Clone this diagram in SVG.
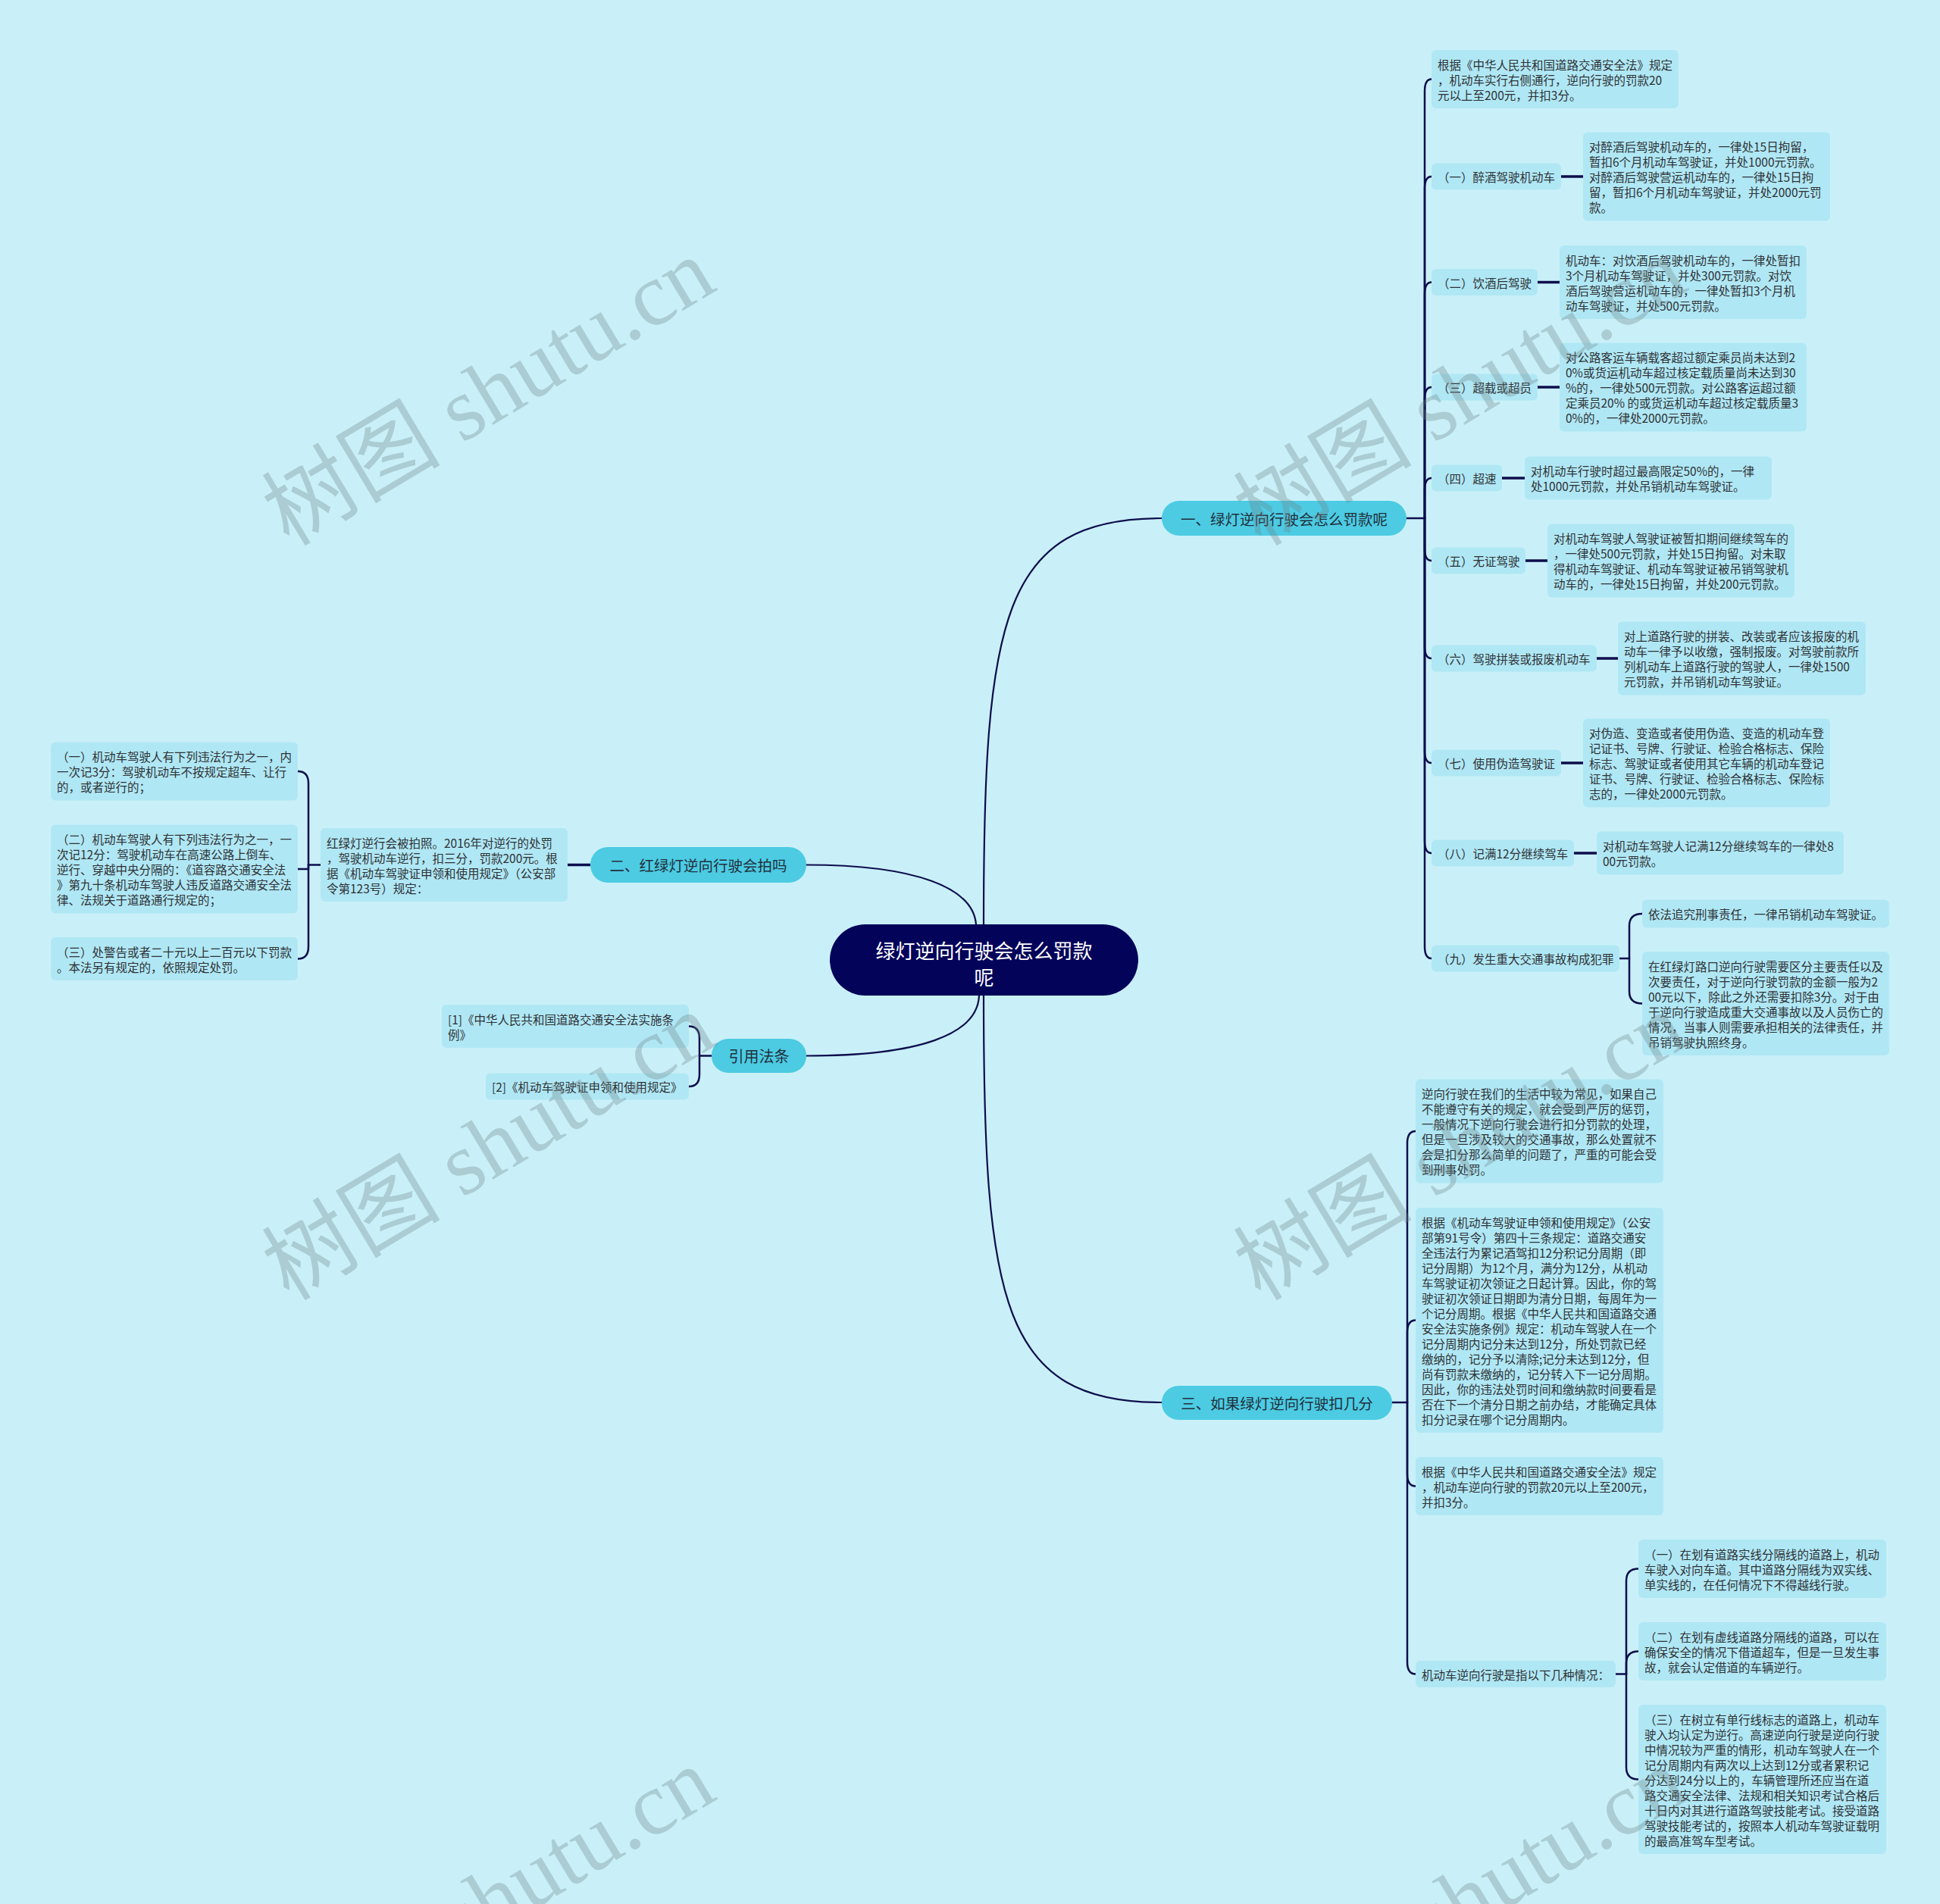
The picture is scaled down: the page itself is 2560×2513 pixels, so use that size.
<svg xmlns="http://www.w3.org/2000/svg" width="2560" height="2513" viewBox="0 0 2560 2513">
<defs>
<style>
.ln{fill:none;stroke:#0d0d4d;stroke-width:2.5;stroke-linecap:round;stroke-linejoin:round}
.lm{fill:none;stroke:#0d0d4d;stroke-width:2.2;stroke-linecap:round}
.lt{fill:none;stroke:#0d0d4d;stroke-width:3.5}
.leaf{fill:#b0e7f4}
.br{fill:#4ccbe3}
.rootbox{fill:#03035a}
.t{font-family:"Noto Sans CJK SC","Microsoft YaHei",sans-serif;font-size:15.5px;fill:#2e3236;dominant-baseline:central}
.bt{font-family:"Noto Sans CJK SC","Microsoft YaHei",sans-serif;font-size:19.5px;fill:#22303c;text-anchor:middle;dominant-baseline:central}
.rt{font-family:"Noto Sans CJK SC","Microsoft YaHei",sans-serif;font-size:26px;fill:#ffffff;text-anchor:middle;dominant-baseline:central}
.wm{font-family:"Liberation Serif","Noto Sans CJK SC",serif;font-size:118px;fill:#6e8388;opacity:0.32;text-anchor:middle;dominant-baseline:central}
</style>
</defs>
<rect x="0" y="0" width="2560" height="2513" fill="#c9f0f8"/>

<g id="connectors">
<path class="lm" d="M1298,1220 C1298,816 1322,684 1533,684"/>
<path class="lm" d="M1298,1314 C1298,1720 1322,1851 1533,1851"/>
<path class="lm" d="M1288,1220 C1284,1172 1210,1141.5 1064,1141.5"/>
<path class="lm" d="M1292,1314 C1290,1365 1215,1393.5 1064,1393.5"/>

<path class="ln" d="M1856,684 H1880"/>
<path class="ln" d="M1880,684 V120.5 Q1880,104.5 1889,104.5"/>
<path class="ln" d="M1880,684 V249 Q1880,233 1889,233"/>
<path class="ln" d="M1880,684 V388.5 Q1880,372.5 1889,372.5"/>
<path class="ln" d="M1880,684 V527 Q1880,511 1889,511"/>
<path class="ln" d="M1880,684 V647 Q1880,631 1889,631"/>
<path class="ln" d="M1880,684 V724 Q1880,740 1889,740"/>
<path class="ln" d="M1880,684 V853 Q1880,869 1889,869"/>
<path class="ln" d="M1880,684 V991 Q1880,1007 1889,1007"/>
<path class="ln" d="M1880,684 V1110 Q1880,1126 1889,1126"/>
<path class="ln" d="M1880,684 V1249 Q1880,1265 1889,1265"/>

<path class="lt" d="M2059,233 H2089"/>
<path class="lt" d="M2028,372.5 H2058"/>
<path class="lt" d="M2028,511 H2058"/>
<path class="lt" d="M1982,631 H2012"/>
<path class="lt" d="M2012,740 H2042"/>
<path class="lt" d="M2106,869 H2135"/>
<path class="lt" d="M2059,1007 H2089"/>
<path class="lt" d="M2077,1126 H2107"/>

<path class="ln" d="M2137,1265 H2150"/>
<path class="ln" d="M2150,1265 V1222 Q2150,1206 2167,1206"/>
<path class="ln" d="M2150,1265 V1308.5 Q2150,1324.5 2167,1324.5"/>

<path class="ln" d="M1837,1851 H1857"/>
<path class="ln" d="M1857,1851 V1509 Q1857,1493 1868,1493"/>
<path class="ln" d="M1857,1851 V1758.5 Q1857,1742.5 1868,1742.5"/>
<path class="ln" d="M1857,1851 V1945.5 Q1857,1961.5 1868,1961.5"/>
<path class="ln" d="M1857,1851 V2193.5 Q1857,2209.5 1868,2209.5"/>

<path class="ln" d="M2132,2209.5 H2146"/>
<path class="ln" d="M2146,2209.5 V2086.5 Q2146,2070.5 2162,2070.5"/>
<path class="ln" d="M2146,2209.5 V2195.5 Q2146,2179.5 2162,2179.5"/>
<path class="ln" d="M2146,2209.5 V2332.5 Q2146,2348.5 2162,2348.5"/>

<path class="lt" d="M779,1141.5 H749"/>
<path class="ln" d="M423,1141.5 H407"/>
<path class="ln" d="M407,1141.5 V1034 Q407,1018 393,1018"/>
<path class="ln" d="M407,1141.5 V1147 H393"/>
<path class="ln" d="M407,1141.5 V1249.5 Q407,1265.5 393,1265.5"/>

<path class="ln" d="M939,1393.5 H923"/>
<path class="ln" d="M923,1393.5 V1370.5 Q923,1354.5 909,1354.5"/>
<path class="ln" d="M923,1393.5 V1418 Q923,1434 909,1434"/>
</g>

<g id="root">
<rect class="rootbox" x="1095" y="1220" width="407" height="94" rx="47"/>
<text class="rt"><tspan x="1298.5" y="1253">绿灯逆向行驶会怎么罚款</tspan><tspan x="1298.5" y="1288">呢</tspan></text>
</g>

<g id="branch1">
<rect class="br" x="1533" y="661" width="323" height="46" rx="23"/>
<text class="bt" x="1694.5" y="684">一、绿灯逆向行驶会怎么罚款呢</text>
</g>
<g id="branch2">
<rect class="br" x="779" y="1118" width="285" height="47" rx="23"/>
<text class="bt" x="921.5" y="1141.5">二、红绿灯逆向行驶会拍吗</text>
</g>
<g id="branch3">
<rect class="br" x="1533" y="1829" width="304" height="45" rx="22"/>
<text class="bt" x="1685" y="1851">三、如果绿灯逆向行驶扣几分</text>
</g>
<g id="branch4">
<rect class="br" x="939" y="1371" width="125" height="45" rx="22"/>
<text class="bt" x="1001.5" y="1393.5" style="font-size:20px">引用法条</text>
</g>

<g id="b1-law">
<rect class="leaf" x="1889" y="66" width="326" height="77" rx="6"/>
<text class="t"><tspan x="1897" y="84.5">根据《中华人民共和国道路交通安全法》规定</tspan><tspan x="1897" y="104.5">，机动车实行右侧通行，逆向行驶的罚款20</tspan><tspan x="1897" y="124.5">元以上至200元，并扣3分。</tspan></text>
</g>

<g id="b1-1">
<rect class="leaf" x="1889" y="215.5" width="171" height="35" rx="6"/>
<text class="t" x="1897" y="233">（一）醉酒驾驶机动车</text>
</g>
<g id="b1-1d">
<rect class="leaf" x="2089" y="174.5" width="326" height="117" rx="6"/>
<text class="t"><tspan x="2097" y="193">对醉酒后驾驶机动车的，一律处15日拘留，</tspan><tspan x="2097" y="213">暂扣6个月机动车驾驶证，并处1000元罚款。</tspan><tspan x="2097" y="233">对醉酒后驾驶营运机动车的，一律处15日拘</tspan><tspan x="2097" y="253">留，暂扣6个月机动车驾驶证，并处2000元罚</tspan><tspan x="2097" y="273">款。</tspan></text>
</g>

<g id="b1-2">
<rect class="leaf" x="1889" y="355" width="140" height="35" rx="6"/>
<text class="t" x="1897" y="372.5">（二）饮酒后驾驶</text>
</g>
<g id="b1-2d">
<rect class="leaf" x="2058" y="324" width="326" height="97" rx="6"/>
<text class="t"><tspan x="2066" y="342.5">机动车：对饮酒后驾驶机动车的，一律处暂扣</tspan><tspan x="2066" y="362.5">3个月机动车驾驶证，并处300元罚款。对饮</tspan><tspan x="2066" y="382.5">酒后驾驶营运机动车的，一律处暂扣3个月机</tspan><tspan x="2066" y="402.5">动车驾驶证，并处500元罚款。</tspan></text>
</g>

<g id="b1-3">
<rect class="leaf" x="1889" y="493.5" width="140" height="35" rx="6"/>
<text class="t" x="1897" y="511">（三）超载或超员</text>
</g>
<g id="b1-3d">
<rect class="leaf" x="2058" y="452.5" width="326" height="117" rx="6"/>
<text class="t"><tspan x="2066" y="471">对公路客运车辆载客超过额定乘员尚未达到2</tspan><tspan x="2066" y="491">0%或货运机动车超过核定载质量尚未达到30</tspan><tspan x="2066" y="511">%的，一律处500元罚款。对公路客运超过额</tspan><tspan x="2066" y="531">定乘员20% 的或货运机动车超过核定载质量3</tspan><tspan x="2066" y="551">0%的，一律处2000元罚款。</tspan></text>
</g>

<g id="b1-4">
<rect class="leaf" x="1889" y="613.5" width="93" height="35" rx="6"/>
<text class="t" x="1897" y="631">（四）超速</text>
</g>
<g id="b1-4d">
<rect class="leaf" x="2012" y="602.5" width="326" height="57" rx="6"/>
<text class="t"><tspan x="2020" y="621">对机动车行驶时超过最高限定50%的，一律</tspan><tspan x="2020" y="641">处1000元罚款，并处吊销机动车驾驶证。</tspan></text>
</g>

<g id="b1-5">
<rect class="leaf" x="1889" y="722.5" width="124" height="35" rx="6"/>
<text class="t" x="1897" y="740">（五）无证驾驶</text>
</g>
<g id="b1-5d">
<rect class="leaf" x="2042" y="691.5" width="326" height="97" rx="6"/>
<text class="t"><tspan x="2050" y="710">对机动车驾驶人驾驶证被暂扣期间继续驾车的</tspan><tspan x="2050" y="730">，一律处500元罚款，并处15日拘留。对未取</tspan><tspan x="2050" y="750">得机动车驾驶证、机动车驾驶证被吊销驾驶机</tspan><tspan x="2050" y="770">动车的，一律处15日拘留，并处200元罚款。</tspan></text>
</g>

<g id="b1-6">
<rect class="leaf" x="1889" y="851.5" width="218" height="35" rx="6"/>
<text class="t" x="1897" y="869">（六）驾驶拼装或报废机动车</text>
</g>
<g id="b1-6d">
<rect class="leaf" x="2135" y="820.5" width="327" height="97" rx="6"/>
<text class="t"><tspan x="2143" y="839">对上道路行驶的拼装、改装或者应该报废的机</tspan><tspan x="2143" y="859">动车一律予以收缴，强制报废。对驾驶前款所</tspan><tspan x="2143" y="879">列机动车上道路行驶的驾驶人，一律处1500</tspan><tspan x="2143" y="899">元罚款，并吊销机动车驾驶证。</tspan></text>
</g>

<g id="b1-7">
<rect class="leaf" x="1889" y="989.5" width="171" height="35" rx="6"/>
<text class="t" x="1897" y="1007">（七）使用伪造驾驶证</text>
</g>
<g id="b1-7d">
<rect class="leaf" x="2089" y="948.5" width="326" height="117" rx="6"/>
<text class="t"><tspan x="2097" y="967">对伪造、变造或者使用伪造、变造的机动车登</tspan><tspan x="2097" y="987">记证书、号牌、行驶证、检验合格标志、保险</tspan><tspan x="2097" y="1007">标志、驾驶证或者使用其它车辆的机动车登记</tspan><tspan x="2097" y="1027">证书、号牌、行驶证、检验合格标志、保险标</tspan><tspan x="2097" y="1047">志的，一律处2000元罚款。</tspan></text>
</g>

<g id="b1-8">
<rect class="leaf" x="1889" y="1108.5" width="188" height="35" rx="6"/>
<text class="t" x="1897" y="1126">（八）记满12分继续驾车</text>
</g>
<g id="b1-8d">
<rect class="leaf" x="2107" y="1097.5" width="326" height="57" rx="6"/>
<text class="t"><tspan x="2115" y="1116">对机动车驾驶人记满12分继续驾车的一律处8</tspan><tspan x="2115" y="1136">00元罚款。</tspan></text>
</g>

<g id="b1-9">
<rect class="leaf" x="1889" y="1247.5" width="248" height="35" rx="6"/>
<text class="t" x="1897" y="1265">（九）发生重大交通事故构成犯罪</text>
</g>
<g id="b1-9a">
<rect class="leaf" x="2167" y="1187.5" width="326" height="37" rx="6"/>
<text class="t" x="2175" y="1206">依法追究刑事责任，一律吊销机动车驾驶证。</text>
</g>
<g id="b1-9b">
<rect class="leaf" x="2167" y="1256" width="326" height="137" rx="6"/>
<text class="t"><tspan x="2175" y="1274.5">在红绿灯路口逆向行驶需要区分主要责任以及</tspan><tspan x="2175" y="1294.5">次要责任，对于逆向行驶罚款的金额一般为2</tspan><tspan x="2175" y="1314.5">00元以下，除此之外还需要扣除3分。对于由</tspan><tspan x="2175" y="1334.5">于逆向行驶造成重大交通事故以及人员伤亡的</tspan><tspan x="2175" y="1354.5">情况，当事人则需要承担相关的法律责任，并</tspan><tspan x="2175" y="1374.5">吊销驾驶执照终身。</tspan></text>
</g>

<g id="b3-1">
<rect class="leaf" x="1868" y="1424.5" width="327" height="137" rx="6"/>
<text class="t"><tspan x="1876" y="1443">逆向行驶在我们的生活中较为常见，如果自己</tspan><tspan x="1876" y="1463">不能遵守有关的规定，就会受到严厉的惩罚，</tspan><tspan x="1876" y="1483">一般情况下逆向行驶会进行扣分罚款的处理，</tspan><tspan x="1876" y="1503">但是一旦涉及较大的交通事故，那么处置就不</tspan><tspan x="1876" y="1523">会是扣分那么简单的问题了，严重的可能会受</tspan><tspan x="1876" y="1543">到刑事处罚。</tspan></text>
</g>

<g id="b3-2">
<rect class="leaf" x="1868" y="1594" width="327" height="297" rx="6"/>
<text class="t"><tspan x="1876" y="1612.5">根据《机动车驾驶证申领和使用规定》（公安</tspan><tspan x="1876" y="1632.5">部第91号令）第四十三条规定：道路交通安</tspan><tspan x="1876" y="1652.5">全违法行为累记酒驾扣12分积记分周期（即</tspan><tspan x="1876" y="1672.5">记分周期）为12个月，满分为12分，从机动</tspan><tspan x="1876" y="1692.5">车驾驶证初次领证之日起计算。因此，你的驾</tspan><tspan x="1876" y="1712.5">驶证初次领证日期即为清分日期，每周年为一</tspan><tspan x="1876" y="1732.5">个记分周期。根据《中华人民共和国道路交通</tspan><tspan x="1876" y="1752.5">安全法实施条例》规定：机动车驾驶人在一个</tspan><tspan x="1876" y="1772.5">记分周期内记分未达到12分，所处罚款已经</tspan><tspan x="1876" y="1792.5">缴纳的，记分予以清除;记分未达到12分，但</tspan><tspan x="1876" y="1812.5">尚有罚款未缴纳的，记分转入下一记分周期。</tspan><tspan x="1876" y="1832.5">因此，你的违法处罚时间和缴纳款时间要看是</tspan><tspan x="1876" y="1852.5">否在下一个清分日期之前办结，才能确定具体</tspan><tspan x="1876" y="1872.5">扣分记录在哪个记分周期内。</tspan></text>
</g>

<g id="b3-3">
<rect class="leaf" x="1868" y="1923" width="327" height="77" rx="6"/>
<text class="t"><tspan x="1876" y="1941.5">根据《中华人民共和国道路交通安全法》规定</tspan><tspan x="1876" y="1961.5">，机动车逆向行驶的罚款20元以上至200元，</tspan><tspan x="1876" y="1981.5">并扣3分。</tspan></text>
</g>

<g id="b3-4">
<rect class="leaf" x="1868" y="2192" width="264" height="35" rx="6"/>
<text class="t" x="1876" y="2209.5">机动车逆向行驶是指以下几种情况：</text>
</g>
<g id="b3-4a">
<rect class="leaf" x="2162" y="2032" width="327" height="77" rx="6"/>
<text class="t"><tspan x="2170" y="2050.5">（一）在划有道路实线分隔线的道路上，机动</tspan><tspan x="2170" y="2070.5">车驶入对向车道。其中道路分隔线为双实线、</tspan><tspan x="2170" y="2090.5">单实线的，在任何情况下不得越线行驶。</tspan></text>
</g>
<g id="b3-4b">
<rect class="leaf" x="2162" y="2141" width="327" height="77" rx="6"/>
<text class="t"><tspan x="2170" y="2159.5">（二）在划有虚线道路分隔线的道路，可以在</tspan><tspan x="2170" y="2179.5">确保安全的情况下借道超车，但是一旦发生事</tspan><tspan x="2170" y="2199.5">故，就会认定借道的车辆逆行。</tspan></text>
</g>
<g id="b3-4c">
<rect class="leaf" x="2162" y="2250" width="327" height="197" rx="6"/>
<text class="t"><tspan x="2170" y="2268.5">（三）在树立有单行线标志的道路上，机动车</tspan><tspan x="2170" y="2288.5">驶入均认定为逆行。高速逆向行驶是逆向行驶</tspan><tspan x="2170" y="2308.5">中情况较为严重的情形，机动车驾驶人在一个</tspan><tspan x="2170" y="2328.5">记分周期内有两次以上达到12分或者累积记</tspan><tspan x="2170" y="2348.5">分达到24分以上的，车辆管理所还应当在道</tspan><tspan x="2170" y="2368.5">路交通安全法律、法规和相关知识考试合格后</tspan><tspan x="2170" y="2388.5">十日内对其进行道路驾驶技能考试。接受道路</tspan><tspan x="2170" y="2408.5">驾驶技能考试的，按照本人机动车驾驶证载明</tspan><tspan x="2170" y="2428.5">的最高准驾车型考试。</tspan></text>
</g>

<g id="b2-1">
<rect class="leaf" x="423" y="1093" width="326" height="97" rx="6"/>
<text class="t"><tspan x="431" y="1111.5">红绿灯逆行会被拍照。2016年对逆行的处罚</tspan><tspan x="431" y="1131.5">，驾驶机动车逆行，扣三分，罚款200元。根</tspan><tspan x="431" y="1151.5">据《机动车驾驶证申领和使用规定》（公安部</tspan><tspan x="431" y="1171.5">令第123号）规定：</tspan></text>
</g>
<g id="b2-1a">
<rect class="leaf" x="67" y="979.5" width="326" height="77" rx="6"/>
<text class="t"><tspan x="75" y="998">（一）机动车驾驶人有下列违法行为之一，内</tspan><tspan x="75" y="1018">一次记3分：驾驶机动车不按规定超车、让行</tspan><tspan x="75" y="1038">的，或者逆行的；</tspan></text>
</g>
<g id="b2-1b">
<rect class="leaf" x="67" y="1088.5" width="326" height="117" rx="6"/>
<text class="t"><tspan x="75" y="1107">（二）机动车驾驶人有下列违法行为之一，一</tspan><tspan x="75" y="1127">次记12分：驾驶机动车在高速公路上倒车、</tspan><tspan x="75" y="1147">逆行、穿越中央分隔的：《道容路交通安全法</tspan><tspan x="75" y="1167">》第九十条机动车驾驶人违反道路交通安全法</tspan><tspan x="75" y="1187">律、法规关于道路通行规定的；</tspan></text>
</g>
<g id="b2-1c">
<rect class="leaf" x="67" y="1237" width="326" height="57" rx="6"/>
<text class="t"><tspan x="75" y="1255.5">（三）处警告或者二十元以上二百元以下罚款</tspan><tspan x="75" y="1275.5">。本法另有规定的，依照规定处罚。</tspan></text>
</g>

<g id="b4-1">
<rect class="leaf" x="583" y="1326" width="326" height="57" rx="6"/>
<text class="t"><tspan x="591" y="1344.5">[1]《中华人民共和国道路交通安全法实施条</tspan><tspan x="591" y="1364.5">例》</tspan></text>
</g>
<g id="b4-2">
<rect class="leaf" x="641" y="1416.5" width="268" height="35" rx="6"/>
<text class="t" x="649" y="1434">[2]《机动车驾驶证申领和使用规定》</text>
</g>

<g id="watermark">
<text class="wm" x="645" y="518" transform="rotate(-31 645 518)">树图 shutu.cn</text>
<text class="wm" x="1927" y="518" transform="rotate(-31 1927 518)">树图 shutu.cn</text>
<text class="wm" x="645" y="1514" transform="rotate(-31 645 1514)">树图 shutu.cn</text>
<text class="wm" x="1927" y="1514" transform="rotate(-31 1927 1514)">树图 shutu.cn</text>
<text class="wm" x="645" y="2510" transform="rotate(-31 645 2510)">树图 shutu.cn</text>
<text class="wm" x="1927" y="2510" transform="rotate(-31 1927 2510)">树图 shutu.cn</text>
</g>
</svg>
